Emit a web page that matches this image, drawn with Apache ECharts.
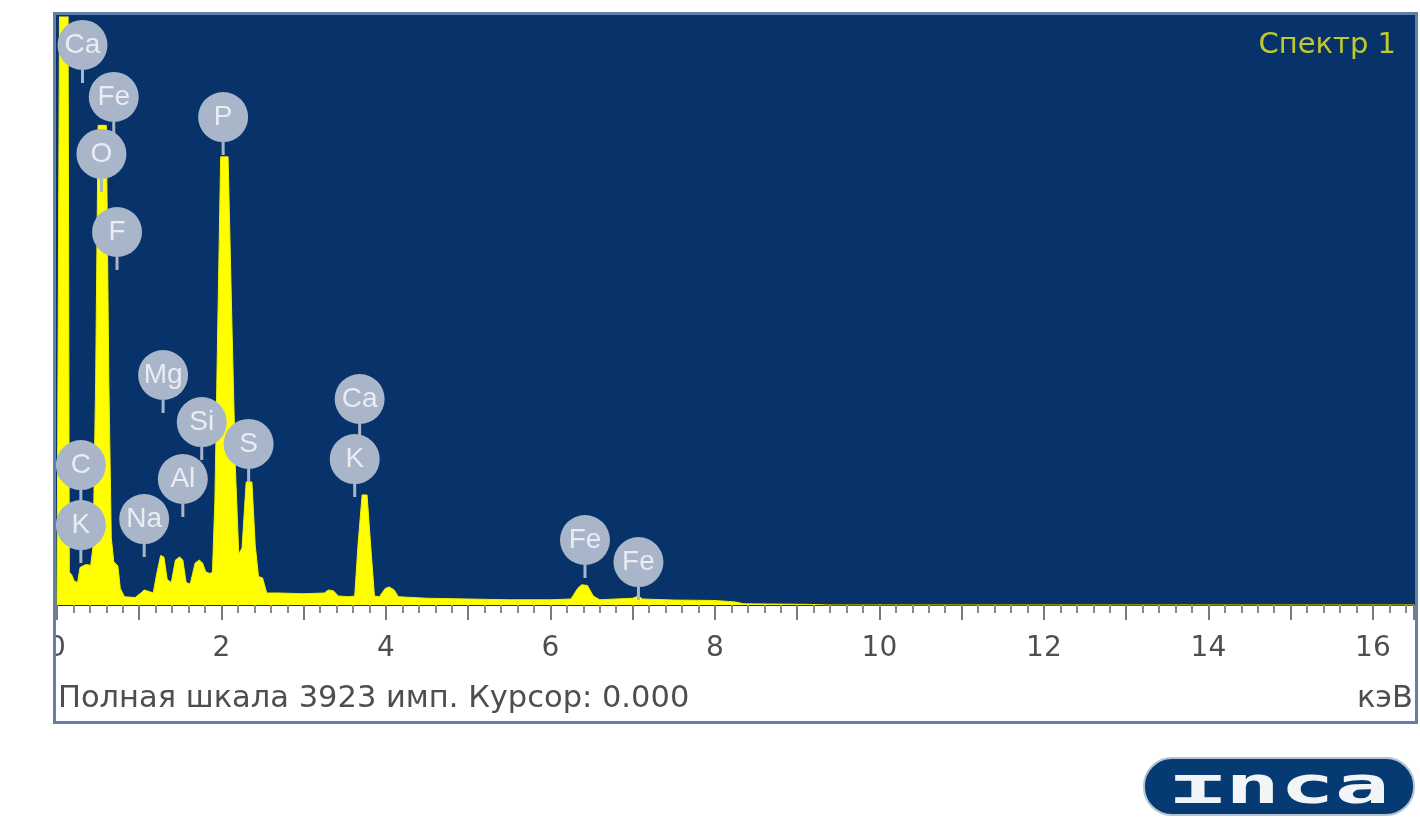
<!DOCTYPE html>
<html>
<head>
<meta charset="utf-8">
<title>Спектр 1</title>
<script src="https://cdn.jsdelivr.net/npm/echarts@6/dist/echarts.min.js"></script>
<style>
  html, body { margin: 0; padding: 0; background: #fff; }
  #chart { width: 1420px; height: 818px; }
</style>
</head>
<body>
<div id="chart"></div>
<script>
// spectrum: energy in keV, counts
const energy = [
  0.00, 0.04, 0.13, 0.15, 0.18, 0.21, 0.25, 0.28, 0.35, 0.41,
  0.44, 0.47, 0.50, 0.60, 0.63, 0.66, 0.69, 0.74, 0.77, 0.82,
  0.95, 1.02, 1.06, 1.12, 1.17, 1.21, 1.26, 1.30, 1.34, 1.39,
  1.44, 1.49, 1.53, 1.57, 1.62, 1.68, 1.73, 1.77, 1.81, 1.86,
  1.89, 1.92, 1.95, 1.99, 2.08, 2.13, 2.17, 2.21, 2.25, 2.30,
  2.37, 2.41, 2.45, 2.50, 2.55, 2.70, 3.00, 3.25, 3.30, 3.36,
  3.42, 3.55, 3.62, 3.66, 3.71, 3.77, 3.82, 3.86, 3.92, 3.99,
  4.04, 4.10, 4.15, 4.50, 5.00, 5.50, 6.00, 6.25, 6.33, 6.38,
  6.45, 6.52, 6.60, 7.00, 7.07, 7.12, 7.50, 8.00, 8.25, 8.35,
  9.00, 9.25, 9.35, 16.5
];
const counts = [
  0, 5200, 5200, 220, 200, 160, 150, 250, 270, 265,
  400, 1500, 3200, 3200, 1500, 450, 290, 260, 110, 55,
  50, 80, 100, 90, 80, 200, 330, 320, 170, 150,
  300, 320, 300, 150, 140, 280, 300, 280, 220, 210,
  220, 700, 1700, 2990, 2990, 1800, 900, 340, 380, 821,
  821, 400, 190, 180, 80, 80, 75, 80, 100, 95,
  60, 55, 60, 400, 734, 734, 350, 60, 55, 110,
  120, 100, 55, 45, 40, 35, 35, 40, 110, 135,
  130, 60, 35, 45, 60, 40, 33, 30, 20, 8,
  5, 3, 0, 0
];

// element markers: name, energy of the pin tip, height of the pin tip (counts)
const peakNames = ['Ca', 'Fe', 'O', 'F', 'P', 'Mg', 'Si', 'S', 'Al', 'Na', 'C', 'K', 'Ca', 'K', 'Fe', 'Fe'];
const peakEnergy = [0.31, 0.69, 0.54, 0.73, 2.02, 1.29, 1.76, 2.33, 1.53, 1.06, 0.29, 0.29, 3.68, 3.62, 6.42, 7.07];
const peakCounts = [3483, 3136, 2756, 2235, 3002, 1281, 967, 821, 587, 320, 680, 280, 1121, 720, 180, 33];

const fullScale = 3923;
const energyMax = 16.5;

const NAVY = '#08336a';
const FONT = '"Liberation Sans", Arial, sans-serif';
const WIDE = '"DejaVu Sans", Verdana, sans-serif';

// circle with a short stem under it, tip at the bottom
const PIN = 'path://M0,25 A25,25 0 1,1 50,25 A25,25 0 1,1 0,25 Z M23.5,49 L26.5,49 L26.5,63 L23.5,63 Z';

const chart = echarts.init(document.getElementById('chart'));

const option = {
  animation: false,
  backgroundColor: '#ffffff',
  title: {
    text: 'Спектр 1',
    right: 19,
    top: 26,
    textStyle: { color: '#c0c92a', fontSize: 29, fontWeight: 'normal', fontFamily: WIDE }
  },
  grid: { left: 57, right: 6, top: 17, bottom: 213 },
  xAxis: {
    type: 'value',
    min: 0,
    max: energyMax,
    interval: 1,
    axisLine: { lineStyle: { color: '#2b2b2b', width: 2 } },
    axisTick: { length: 15, lineStyle: { color: '#7a7a7a', width: 2 } },
    minorTick: { show: true, splitNumber: 5, length: 8, lineStyle: { color: '#8a8a8a', width: 2 } },
    splitLine: { show: false },
    axisLabel: {
      margin: 30,
      fontSize: 28,
      color: '#4e4e4e',
      fontFamily: WIDE,
      formatter: v => (v % 2 === 0 ? String(v) : '')
    }
  },
  yAxis: {
    type: 'value',
    min: 0,
    max: fullScale,
    show: false
  },
  graphic: [
    { type: 'rect', z: 0, shape: { x: 55, y: 15, width: 1360, height: 590 }, style: { fill: NAVY } },
    { type: 'rect', z: 50, shape: { x: 0, y: 610, width: 54, height: 80 }, style: { fill: '#ffffff' } },
    { type: 'rect', z: 51, shape: { x: 54.5, y: 13.5, width: 1362, height: 709 },
      style: { fill: 'none', stroke: '#5f80a8', lineWidth: 3 } },
    { type: 'text', z: 51, style: {
        text: 'Полная шкала 3923 имп. Курсор: 0.000', x: 58, y: 699,
        align: 'left', verticalAlign: 'middle', fontSize: 30.5, fontFamily: WIDE, fill: '#4e4e4e' } },
    { type: 'text', z: 51, style: {
        text: 'кэВ', x: 1413, y: 699,
        align: 'right', verticalAlign: 'middle', fontSize: 30.5, fontFamily: WIDE, fill: '#4e4e4e' } },
    { type: 'rect', z: 51, shape: { x: 1144, y: 758, width: 270, height: 57, r: 28 },
      style: { fill: '#053a72', stroke: '#b4c3d3', lineWidth: 2 } },
    { type: 'text', z: 52, x: 1280, y: 789, scaleX: 1.75, style: {
        text: 'ɪnca', x: 0, y: 0, align: 'center', verticalAlign: 'middle',
        fontSize: 52, fontWeight: 'bold', fontFamily: '"DejaVu Sans Mono", monospace', fill: '#f2f5f8' } }
  ],
  series: [
    {
      name: 'Спектр 1',
      type: 'line',
      z: 3,
      silent: true,
      symbol: 'none',
      clip: true,
      lineStyle: { color: '#f2f200', width: 1 },
      areaStyle: { color: '#ffff00', opacity: 1 },
      data: energy.map((e, i) => [e, counts[i]])
    },
    {
      name: 'markers',
      type: 'scatter',
      z: 5,
      silent: true,
      symbol: PIN,
      symbolSize: [50, 63],
      symbolOffset: [0, '-50%'],
      itemStyle: { color: '#a9b5c9', opacity: 1 },
      label: {
        show: true,
        position: 'inside',
        offset: [0, -6],
        formatter: p => p.name,
        color: '#e9edf3',
        fontSize: 28,
        fontFamily: FONT
      },
      data: peakNames.map((n, i) => ({ name: n, value: [peakEnergy[i], peakCounts[i]] }))
    }
  ]
};

chart.setOption(option);
</script>
</body>
</html>
